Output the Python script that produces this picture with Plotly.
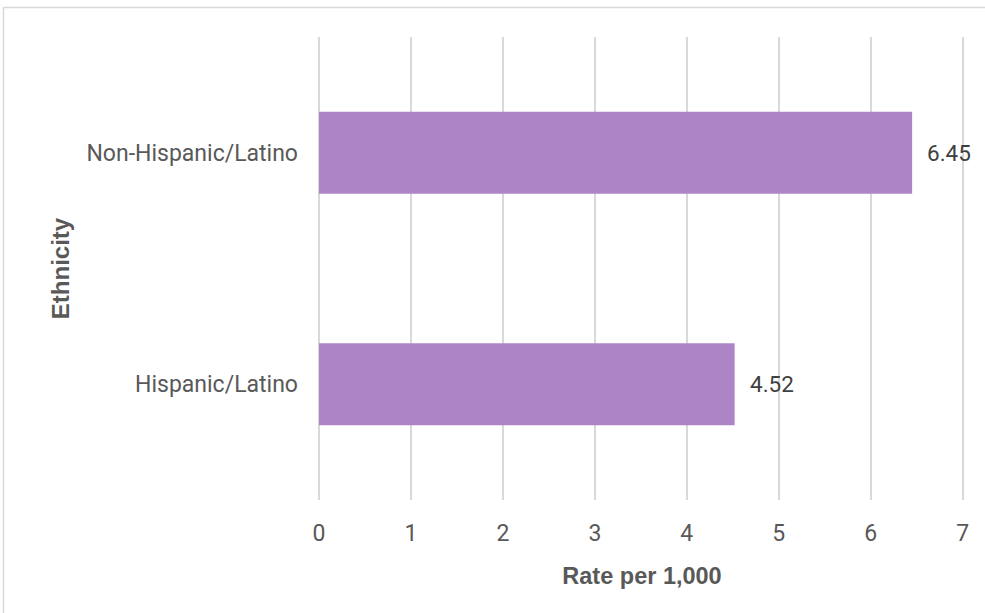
import plotly.graph_objects as go

categories = ["Hispanic/Latino", "Non-Hispanic/Latino"]
rates = [4.52, 6.45]
tick_vals = [0, 1, 2, 3, 4, 5, 6, 7]

BAR = "#AD84C6"
FONT = "Roboto"
TFONT = "Liberation Sans"

fig = go.Figure()
fig.add_trace(go.Bar(
    y=categories, x=rates, orientation="h",
    marker=dict(color=BAR, line=dict(width=0)),
    width=0.354, hoverinfo="skip",
))

for c, v in zip(categories, rates):
    fig.add_annotation(x=v, y=c, text=f"{v:.2f}", showarrow=False,
                       xanchor="left", xshift=13,
                       font=dict(family=FONT, size=22.5, color="#404040"))

L, R, T, B = 319, 20, 37, 113
W, H = 985 - L - R, 613 - T - B

fig.add_shape(type="rect", xref="paper", yref="paper",
              x0=(3.5 - L) / W, x1=1 + (995 - (985 - R)) / W,
              y0=-(625 - (613 - B)) / H, y1=1 + (T - 7.5) / H,
              line=dict(color="#D9D9D9", width=1.5), fillcolor="rgba(0,0,0,0)",
              layer="below")

fig.update_layout(
    width=985, height=613,
    margin=dict(l=L, r=R, t=T, b=B),
    paper_bgcolor="white", plot_bgcolor="white",
    showlegend=False,
    font=dict(family=FONT, size=23, color="#595959"),
    xaxis=dict(
        range=[0, 7.025], tickvals=tick_vals, ticktext=[str(t) for t in tick_vals],
        showgrid=True, gridcolor="#D9D9D9", gridwidth=1.5,
        zeroline=True, zerolinecolor="#D9D9D9", zerolinewidth=1.5,
        showline=False, ticks="", ticklabelstandoff=17,
        tickfont=dict(family=FONT, size=23, color="#595959"),
        title=dict(text="<b>Rate per 1,000</b>", standoff=21,
                   font=dict(family=TFONT, size=23.5, color="#595959")),
    ),
    yaxis=dict(
        categoryorder="array", categoryarray=categories,
        showgrid=False, zeroline=False, showline=False, ticks="",
        ticklabelstandoff=20,
        tickfont=dict(family=FONT, size=23, color="#595959"),
        title=dict(text="<b>Ethnicity</b>", standoff=10,
                   font=dict(family=TFONT, size=24, color="#595959")),
    ),
)

fig.write_html("out.html")
